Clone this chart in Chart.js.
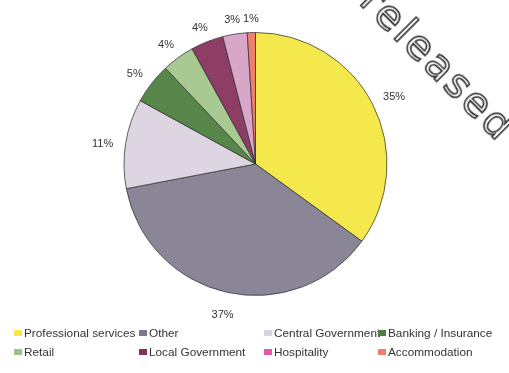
<!DOCTYPE html>
<html>
<head>
<meta charset="utf-8">
<script src="https://cdn.jsdelivr.net/npm/chart.js@4"></script>
<style>
  html, body { margin: 0; padding: 0; background: #fff; }
  #wrap { position: relative; width: 509px; height: 373px; overflow: hidden; }
  #legend {
    position: absolute; left: 14px; top: 325px;
    display: grid; grid-template-columns: 125px 125px 114px 130px;
    row-gap: 3px;
    font-family: "Liberation Sans", Arial, sans-serif; font-size: 11.8px; color: #333;
  }
  #legend div { white-space: nowrap; line-height: 16px; }
  #legend span.box { display: inline-block; width: 8px; height: 6px; margin-right: 2px; vertical-align: 1px; }
  #stamp {
    position: absolute; left: 368px; top: -31px;
    transform: rotate(45deg); transform-origin: left center;
    font-family: "DejaVu Sans", sans-serif; font-size: 41px; letter-spacing: 3px;
    color: transparent; -webkit-text-stroke: 1.6px #333;
  }
</style>
</head>
<body>
<div id="wrap">
  <canvas id="pieChart" width="509" height="373"></canvas>
  <div id="legend"></div>
  <div id="stamp">released</div>
</div>
<script>
const sectors = ['Professional services', 'Other', 'Central Government', 'Banking / Insurance',
                 'Retail', 'Local Government', 'Hospitality', 'Accommodation'];
const shares = [35, 37, 11, 5, 4, 4, 3, 1];
const sliceColors = ['#f4e84c', '#8b8697', '#ddd6e2', '#56864a', '#a8c992', '#8e3d64', '#d8a6c8', '#ee7f6c'];
const legendColors = ['#f4e84c', '#7d7890', '#d8d4dc', '#4d7d45', '#9cc08a', '#8a2f5c', '#e05aa8', '#ee7f6c'];

// percentage labels outside each slice
const outsideLabels = {
  id: 'outsideLabels',
  afterDatasetsDraw(chart) {
    const ctx = chart.ctx;
    const meta = chart.getDatasetMeta(0);
    ctx.save();
    ctx.font = '11px "Liberation Sans", Arial, sans-serif';
    ctx.fillStyle = '#333';
    ctx.textAlign = 'center';
    ctx.textBaseline = 'middle';
    meta.data.forEach((arc, i) => {
      const mid = (arc.startAngle + arc.endAngle) / 2;
      const txt = shares[i] + '%';
      const w = ctx.measureText(txt).width;
      const h = 10;
      const c = Math.cos(mid), s = Math.sin(mid);
      const d = arc.outerRadius + 12 + Math.abs(c) * w / 2 + Math.abs(s) * h / 2;
      ctx.fillText(txt, arc.x + c * d, arc.y + s * d + 4);
    });
    ctx.restore();
  }
};

const ctxPie = document.getElementById('pieChart').getContext('2d');
const pieChart = new Chart(ctxPie, {
  type: 'pie',
  data: {
    labels: sectors,
    datasets: [{
      data: shares,
      backgroundColor: sliceColors,
      borderColor: 'rgba(50,50,50,0.75)',
      borderWidth: 1
    }]
  },
  options: {
    responsive: false,
    animation: false,
    layout: { padding: { left: 123, right: 121, top: 32, bottom: 77 } },
    plugins: {
      legend: { display: false },
      tooltip: { enabled: false }
    }
  },
  plugins: [outsideLabels]
});

// legend in 4 fixed columns
const legendEl = document.getElementById('legend');
sectors.forEach((name, i) => {
  const item = document.createElement('div');
  item.innerHTML = '<span class="box" style="background:' + legendColors[i] + '"></span>' + name;
  legendEl.appendChild(item);
});
</script>
</body>
</html>
